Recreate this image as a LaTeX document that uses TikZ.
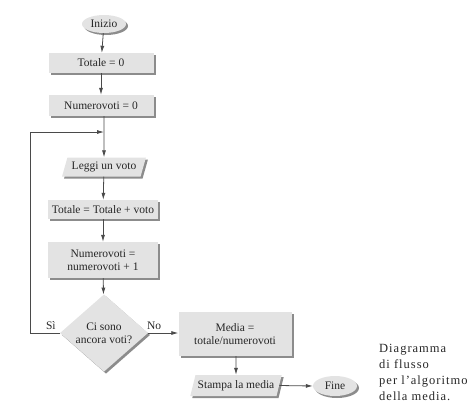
\documentclass[tikz,border=0pt]{standalone}
\usepackage{fontspec}
\setmainfont{Liberation Serif}
\newfontfamily\notefont[LetterSpace=8]{Liberation Serif}
\usepackage{xcolor}
\usetikzlibrary{shapes.geometric, shadows, arrows.meta}
\definecolor{boxfill}{HTML}{E3E3E3}
\definecolor{boxshade}{HTML}{8C8C8C}
\definecolor{linegray}{HTML}{4A4A4A}
\definecolor{textgray}{HTML}{262626}

\tikzset{
  boxshadow/.style={drop shadow={shadow xshift=2pt, shadow yshift=-2pt, fill=boxshade, opacity=1}},
  flowtext/.style={text=textgray, font=\fontsize{11.5}{13}\selectfont, align=center},
  procbox/.style={rectangle, fill=boxfill, boxshadow, flowtext, inner sep=1pt},
  iobox/.style={trapezium, trapezium left angle=68, trapezium right angle=112,
    trapezium stretches=true, fill=boxfill, boxshadow, flowtext, inner sep=1pt},
  termbox/.style={ellipse, fill=boxfill, boxshadow, flowtext, inner sep=0pt},
  testbox/.style={diamond, fill=boxfill, boxshadow, flowtext, inner sep=0pt},
  flow/.style={draw=linegray, line width=0.8pt, -{Latex[length=7pt,width=4pt]}},
  flowlabel/.style={text=textgray, font=\fontsize{11.5}{13}\selectfont}
}

\begin{document}
\begin{tikzpicture}[x=1pt, y=-1pt]

    \useasboundingbox (0,0) rectangle (471,410);

    % Main column
    \node[termbox, minimum width=44pt, minimum height=18pt] (inizio) at (104,24) {Inizio};
    \node[procbox, minimum width=105pt, minimum height=20pt] (tot0) at (101,63) {Totale = 0};
    \node[procbox, minimum width=105pt, minimum height=21pt] (num0) at (101,105.5) {Numerovoti = 0};
    \node[iobox, minimum width=84pt, minimum height=19pt] (leggi) at (104,167) {Leggi un voto};
    \node[procbox, minimum width=110pt, minimum height=19pt] (totv) at (103,209.5) {Totale = Totale + voto};
    \node[procbox, minimum width=110pt, minimum height=36pt] (numv) at (103,260) {Numerovoti =\\numerovoti + 1};
    \node[testbox, minimum width=88pt, minimum height=66pt] (dec) at (104,333) {Ci sono\\ancora voti?};

    % Right branch
    \node[procbox, minimum width=113pt, minimum height=44pt] (media) at (235,334) {Media =\\totale/numerovoti};
    \node[iobox, minimum width=92pt, minimum height=21pt] (stampa) at (236,385.5) {Stampa la media};
    \node[termbox, minimum width=44pt, minimum height=20pt] (fine) at (335,386) {Fine};

    % Caption
    \node[anchor=north west, inner sep=0pt, align=left, text=textgray,
          font=\notefont\fontsize{12.5}{16}\selectfont] (nota) at (379,344)
          {Diagramma\\di flusso\\per l’algoritmo\\della media.};

    % Loop corners
    \coordinate (turn) at (30,333);
    \coordinate (back) at (30,132);
    \coordinate (join) at (104,132);

    \draw[flow] (inizio) -- (tot0);
    \draw[flow] (tot0) -- (num0);
    \draw[flow] (num0.south -| leggi) -- (leggi);
    \draw[flow] (leggi) -- (totv);
    \draw[flow] (totv) -- (numv);
    \draw[flow] (numv) -- (dec);
    \draw[flow] (dec.west) -- node[flowlabel, above, pos=0.3] {Sì} (turn) -- (back) -- (join);
    \draw[flow] (dec.east) -- node[flowlabel, above, pos=0.2] {No} (media.west |- dec.east);
    \draw[flow] (media.south -| stampa) -- (stampa);
    \draw[flow] (stampa.east) -- (fine.west);

\end{tikzpicture}
\end{document}
